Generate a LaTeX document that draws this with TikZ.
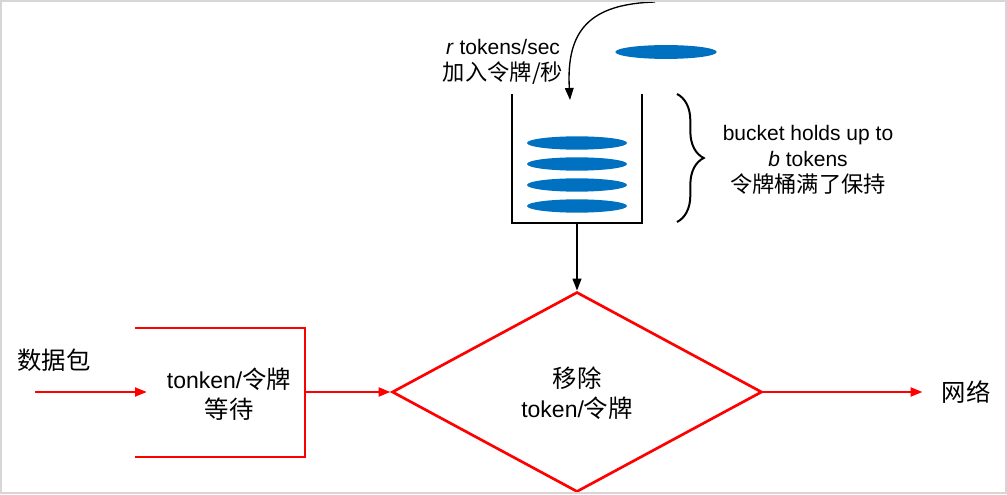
\documentclass[tikz,border=0pt]{standalone}
\usepackage{fontspec}
\setmainfont{Liberation Sans}
\newfontfamily\cjk[Scale=1.06]{Noto Sans CJK SC}
\usepackage{tikz}
\usetikzlibrary{arrows.meta,positioning,shapes.geometric,decorations.pathreplacing}
\usepackage{xcolor}
\definecolor{tokenblue}{RGB}{0,112,192}
\definecolor{framegray}{RGB}{214,214,214}

\begin{document}
\begin{tikzpicture}[x=0.75pt, y=-0.75pt, >={Triangle[length=9pt,width=6.5pt]},
  flow/.style={->, red, line width=2pt},
  feed/.style={->, black, line width=1.5pt},
  wall/.style={black, line width=1.5pt},
  token/.style={fill=tokenblue},
  bigtxt/.style={font=\fontsize{17.25}{22.5}\selectfont, align=center, inner sep=2pt},
  smalltxt/.style={font=\fontsize{15.75}{19.5}\selectfont, align=center, inner sep=1pt},
  decision/.style={diamond, draw=red, line width=2pt, minimum width=277.5pt,
    minimum height=150pt, inner sep=0pt}]
  \useasboundingbox (0,0) rectangle (1007,495);

  %% Top: token bucket
  \draw[wall] (512,94) |- (642,223) -- (642,94);
  \coordinate (bucketB) at (577,223);
  \foreach \y in {143,164,185,206}
    \fill[token] (577,\y) ellipse [x radius=37.5pt, y radius=5pt];
  \fill[token] (666,52) ellipse [x radius=38pt, y radius=5.2pt];
  \coordinate (rateSrc) at (655,2);
  \coordinate (bucketTop) at (570,100);
  \draw[feed, line width=1pt] (rateSrc) .. controls (590,4) and (566,30) .. (bucketTop);
  \node[smalltxt] (rate) at (503,62) {\textit{r} tokens/sec\\{\cjk 加入令牌/秒}};
  \draw[wall, decorate, decoration={brace, amplitude=20pt}] (677,94) -- (677,222);
  \node[smalltxt] (hold) at (808,160)
    {bucket holds up to\\\textit{b} tokens\\{\cjk 令牌桶满了保持}};

  %% Bottom: packet flow
  \node[bigtxt] (pkt) at (54,360) {\cjk 数据包};
  \coordinate (pktIn) at (35,392);
  \coordinate (waitIn) at (147,392);
  \draw[flow] (pktIn) -- (waitIn);
  \draw[red, line width=2pt] (135,328) -| (305,457) -- (135,457);
  \node[bigtxt] (wait) at (229,394) {tonken/{\cjk 令牌}\\{\cjk 等待}};
  \coordinate (waitOut) at (305,392);
  \node[decision] (remove) at (577,392) {};
  \node[bigtxt] (removeTxt) at (577,393) {{\cjk 移除}\\token/{\cjk 令牌}};
  \draw[flow] (waitOut) -- (remove.west);
  \draw[feed] (bucketB) -- (remove.north);
  \node[bigtxt] (net) at (966,392) {\cjk 网络};
  \draw[flow, shorten >=12pt] (remove.east) -- (net.west);

  \draw[framegray, line width=1.5pt] (1,1) rectangle (1006,493);
\end{tikzpicture}
\end{document}
